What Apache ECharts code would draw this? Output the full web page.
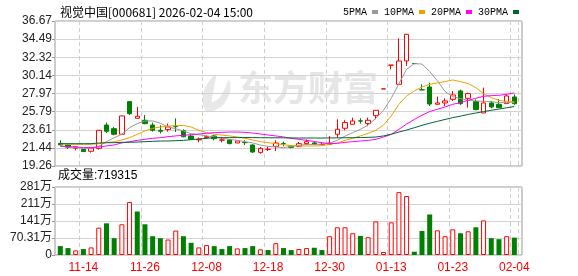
<!DOCTYPE html>
<html><head><meta charset="utf-8">
<script src="https://cdn.jsdelivr.net/npm/echarts@6/dist/echarts.min.js"></script>
<style>html,body{margin:0;padding:0;background:#fff}#c{width:578px;height:276px}</style>
</head><body><div id="c"></div>
<script>
const titleText = '视觉中国[000681] 2026-02-04 15:00';
const volText = '成交量:719315';
const watermark = '东方财富';
const dates = ['11-11','11-12','11-13','11-14','11-17','11-18','11-19','11-20','11-21','11-24',
  '11-25','11-26','11-27','11-28','12-01','12-02','12-03','12-04','12-05','12-08',
  '12-09','12-10','12-11','12-12','12-15','12-16','12-17','12-18','12-19','12-22',
  '12-23','12-24','12-25','12-26','12-29','12-30','12-31','01-05','01-06','01-07',
  '01-08','01-09','01-12','01-13','01-14','01-15','01-16','01-19','01-20','01-21',
  '01-22','01-23','01-26','01-27','01-28','01-29','01-30','02-02','02-03','02-04'];
const xLabelDates = ['11-14','11-26','12-08','12-18','12-30','01-13','01-23','02-04'];
const opens = [21.98,21.78,21.40,21.27,21.03,21.38,24.18,23.74,23.07,26.99,
  24.99,24.75,24.18,23.55,23.63,24.00,23.50,22.86,22.40,22.67,
  22.87,22.37,22.39,22.03,22.08,21.78,20.90,21.25,21.62,21.95,
  21.66,21.62,21.95,22.03,21.84,21.86,23.07,23.79,24.27,24.68,
  24.35,25.31,28.52,31.37,29.07,31.87,31.56,28.41,28.75,26.67,
  26.83,27.27,28.27,27.39,26.99,25.63,26.83,26.67,26.75,27.55];
const closes = [21.80,21.52,21.55,20.99,21.40,23.55,23.43,23.07,25.27,25.54,
  25.23,24.35,23.55,23.43,23.95,23.98,22.78,22.46,22.47,22.79,
  22.54,22.39,21.95,22.27,22.06,20.94,21.38,21.27,22.02,21.93,
  21.50,21.94,22.18,21.87,21.86,22.02,23.67,24.47,24.67,24.66,
  24.75,25.95,28.52,31.37,31.87,35.07,31.56,28.40,26.70,26.83,
  27.07,27.79,26.75,27.95,26.03,26.83,26.35,26.27,27.67,26.75];
const lows = [21.66,21.30,21.15,20.95,20.87,21.23,23.23,22.95,23.00,25.38,
  24.95,24.27,23.38,23.15,23.38,23.34,22.70,22.38,22.11,22.55,
  22.34,22.10,21.86,22.00,21.78,20.82,20.74,21.06,21.06,21.62,
  21.38,21.54,21.78,21.78,21.80,21.78,22.67,23.55,24.27,24.35,
  24.03,24.87,28.52,30.87,29.07,31.27,31.56,28.40,26.47,26.67,
  26.47,27.07,26.59,26.27,25.95,25.63,26.19,26.27,26.75,26.59];
const highs = [22.35,21.85,21.60,21.30,21.45,23.58,24.47,23.94,25.30,27.05,
  26.35,25.38,24.47,24.15,24.35,24.98,23.67,23.07,22.67,22.95,
  22.98,22.75,22.50,22.30,22.35,21.87,21.54,21.54,22.35,22.18,
  21.78,22.14,22.46,22.14,22.10,22.86,24.87,24.75,25.07,24.99,
  25.07,25.95,28.52,31.37,34.59,35.10,31.56,29.07,29.27,27.60,
  27.39,28.27,28.43,28.07,27.27,28.67,27.07,27.27,27.87,27.87];
const prevClose0 = 22.00;
const volumes = [36.8,28.6,19.1,24.5,31.3,113,131,69.5,127,219,
  180,127,77.7,69.5,64,101,77.7,50.4,31.3,40.9,
  36.8,24.5,36.8,27.3,28.6,36.8,23.2,20.4,49,28.6,
  20.4,24.5,28.6,30,20.4,77.7,114.5,114.5,90,79,
  73.6,139,12.3,135,260,244,13.6,99.5,167.6,102,
  77.7,106,90,98,114.5,143,69.5,65.4,77.7,71.93];
const ma5 = [21.70,21.55,21.47,21.38,21.38,21.62,22.18,22.66,23.07,23.87,
  24.35,24.67,24.67,24.39,23.95,23.74,23.47,23.14,23.02,22.87,
  22.75,22.59,22.46,22.34,22.18,22.03,21.78,21.62,21.55,21.46,
  21.62,21.74,21.85,21.85,21.88,22.00,22.35,22.85,23.27,23.67,
  24.18,24.99,25.95,27.39,29.15,30.87,31.55,31.50,30.60,29.50,
  28.19,27.60,27.35,27.15,27.07,27.03,26.99,26.87,26.87,27.00];
const ma10 = [21.90,21.88,21.86,21.85,21.86,21.94,22.06,22.18,22.38,22.66,
  23.07,23.47,23.78,23.94,24.06,24.10,24.14,23.94,23.55,23.27,
  23.07,22.98,22.87,22.75,22.59,22.38,22.18,22.06,21.94,21.82,
  21.70,21.66,21.66,21.66,21.70,21.86,22.02,22.34,22.58,22.87,
  23.19,23.55,24.18,25.27,26.67,27.67,28.27,28.75,29.07,29.23,
  29.39,29.59,29.39,29.15,28.67,27.95,27.47,27.15,26.99,26.87];
const ma20 = [21.62,21.58,21.55,21.47,21.47,21.55,21.67,21.79,22.03,22.18,
  22.34,22.46,22.58,22.66,22.78,22.87,22.95,23.02,23.10,23.18,
  23.26,23.30,23.34,23.34,23.30,23.22,23.10,22.98,22.87,22.75,
  22.59,22.46,22.34,22.20,22.05,21.95,21.98,22.10,22.18,22.26,
  22.34,22.46,22.74,23.06,23.66,24.30,24.85,25.35,25.80,26.07,
  26.35,26.67,26.87,27.15,27.39,27.63,27.71,27.75,27.87,28.03];
const ma30 = [21.94,21.94,21.94,21.94,21.94,22.02,22.06,22.06,22.10,22.10,
  22.14,22.18,22.22,22.26,22.26,22.30,22.34,22.42,22.50,22.58,
  22.66,22.66,22.67,22.67,22.68,22.67,22.66,22.65,22.65,22.64,
  22.63,22.62,22.62,22.62,22.62,22.63,22.64,22.65,22.66,22.68,
  22.70,22.74,22.87,23.07,23.34,23.58,23.86,24.14,24.40,24.62,
  24.85,25.07,25.25,25.45,25.62,25.80,25.95,26.10,26.25,26.40];
const priceTicks = ['19.26','21.44','23.61','25.79','27.97','30.14','32.32','34.49','36.67'];
const volTicks = ['0','70.31万','141万','211万','281万'];
const priceMin = 19.26, priceMax = 36.67;
const volMax = 281.24;

const UP = '#ff0000', DOWN = '#008000';
const candleData = dates.map((d, i) => [opens[i], closes[i], lows[i], highs[i]]);
const volData = volumes.map((v, i) => {
  const pc = i === 0 ? prevClose0 : closes[i - 1];
  const up = closes[i] >= pc;
  return { value: v, itemStyle: up ? { color: '#fff', borderColor: UP, borderWidth: 1 } : { color: DOWN, borderColor: DOWN, borderWidth: 0 } };
});
const showIdx = (idx) => xLabelDates.indexOf(dates[idx]) >= 0;

const chart = echarts.init(document.getElementById('c'), null, { renderer: 'canvas' });
const labelFont = "'Liberation Sans', 'Noto Sans CJK SC', sans-serif";
const gridL = 55, gridR = 56, dataL = 56.45, dataR = 59.8;
chart.setOption({
  animation: false,
  backgroundColor: '#fff',
  title: { text: titleText, left: 55, top: 1, textStyle: { fontSize: 12, fontWeight: 'normal', color: '#000', fontFamily: "'Noto Sans CJK SC', sans-serif" } },
  legend: {
    data: ['5PMA', '10PMA', '20PMA', '30PMA'], left: 338, top: 2, itemGap: 6, align: 'right',
    icon: 'rect', itemWidth: 6, itemHeight: 4, selectedMode: false,
    textStyle: { fontSize: 10, color: '#000', fontFamily: "'Liberation Mono', monospace" }
  },
  graphic: [
    { type: 'polygon', z: 0, silent: true,
      shape: { points: [[216, 74], [205, 88], [203, 104], [208, 112], [222, 106], [230, 92], [229, 80], [221, 96], [212, 102], [214, 88]], smooth: 0.3 },
      style: { fill: '#e8e8e8' } },
    { type: 'text', left: 238, top: 70, z: 0, silent: true, style: { text: watermark, fill: '#e6e6e6', font: "bold 35px 'Noto Sans CJK SC'" } },
    { type: 'text', left: 58, top: 170, z: 10, style: { text: volText, fill: '#000', font: "12px " + labelFont } }
  ],
  grid: [
    { left: gridL, right: gridR, top: 21, height: 145, show: true, borderColor: '#999', borderWidth: 1, backgroundColor: 'transparent' },
    { left: dataL, right: dataR, top: 21, height: 145 },
    { left: gridL, right: gridR, top: 187, height: 68, show: true, borderColor: '#999', borderWidth: 1, backgroundColor: 'transparent' },
    { left: dataL, right: dataR, top: 187, height: 68 }
  ],
  xAxis: [
    { gridIndex: 0, type: 'value', min: 0, max: 1, show: false },
    { gridIndex: 1, type: 'category', data: dates, boundaryGap: true, axisLine: { show: false }, axisTick: { show: false }, axisLabel: { show: false },
      splitLine: { show: true, interval: (i) => showIdx(i), lineStyle: { color: '#cfcfcf', type: [4, 3] } } },
    { gridIndex: 2, type: 'value', min: 0, max: 1, show: false },
    { gridIndex: 3, type: 'category', data: dates, boundaryGap: true, axisLine: { show: false }, axisTick: { show: false },
      axisLabel: { show: true, interval: (i) => showIdx(i), color: '#ff0000', fontSize: 12, margin: 7, fontFamily: labelFont },
      splitLine: { show: true, interval: (i) => showIdx(i), lineStyle: { color: '#cfcfcf', type: [4, 3] } } }
  ],
  yAxis: [
    { gridIndex: 0, type: 'value', min: 0, max: 8, interval: 1,
      axisLine: { show: false }, axisTick: { show: true, length: 3, lineStyle: { color: '#999' } },
      axisLabel: { formatter: (v) => priceTicks[v], color: '#222', fontSize: 12, margin: 3, fontFamily: labelFont },
      splitLine: { show: true, lineStyle: { color: '#d3d3d3' } } },
    { gridIndex: 1, type: 'value', min: priceMin, max: priceMax, show: false, splitLine: { show: false } },
    { gridIndex: 2, type: 'value', min: 0, max: 4, interval: 1,
      axisLine: { show: false }, axisTick: { show: true, length: 3, lineStyle: { color: '#999' } },
      axisLabel: { formatter: (v) => volTicks[v], color: '#222', fontSize: 12, margin: 3, fontFamily: labelFont },
      splitLine: { show: true, lineStyle: { color: '#d3d3d3' } } },
    { gridIndex: 3, type: 'value', min: 0, max: volMax, show: false, splitLine: { show: false } }
  ],
  series: [
    { type: 'candlestick', name: 'K', xAxisIndex: 1, yAxisIndex: 1, data: candleData, barWidth: 5,
      itemStyle: { color: '#fff', color0: DOWN, borderColor: UP, borderColor0: DOWN, borderWidth: 1 } },
    { type: 'line', name: '5PMA', xAxisIndex: 1, yAxisIndex: 1, data: ma5, symbol: 'none', lineStyle: { width: 1, color: '#9a9a9a' }, itemStyle: { color: '#9a9a9a' } },
    { type: 'line', name: '10PMA', xAxisIndex: 1, yAxisIndex: 1, data: ma10, symbol: 'none', lineStyle: { width: 1, color: '#f0a000' }, itemStyle: { color: '#f0a000' } },
    { type: 'line', name: '20PMA', xAxisIndex: 1, yAxisIndex: 1, data: ma20, symbol: 'none', lineStyle: { width: 1, color: '#ff00ff' }, itemStyle: { color: '#ff00ff' } },
    { type: 'line', name: '30PMA', xAxisIndex: 1, yAxisIndex: 1, data: ma30, symbol: 'none', lineStyle: { width: 1, color: '#006633' }, itemStyle: { color: '#006633' } },
    { type: 'bar', name: 'VOL', xAxisIndex: 3, yAxisIndex: 3, data: volData, barWidth: 5 }
  ]
});
</script></body></html>
